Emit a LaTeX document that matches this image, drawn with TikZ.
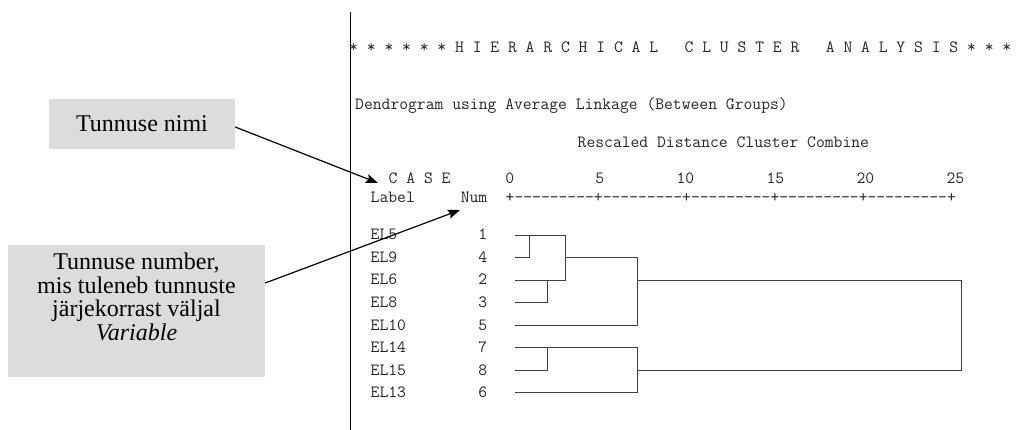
\documentclass[tikz,border=0pt]{standalone}
\usepackage{fontspec}
\setmainfont{Liberation Serif}
\usepackage{tikz}
\usetikzlibrary{arrows.meta}
\definecolor{boxgray}{RGB}{220,220,220}

\begin{document}
\begin{tikzpicture}[
  x=1pt,y=-1pt,
  callout/.style={fill=boxgray,inner sep=0pt,align=center,
    font=\fontsize{24}{23.5}\selectfont},
  spss/.style={inner sep=0pt,text=black!85,
    font=\ttfamily\fontsize{17.14}{20}\selectfont},
  tree/.style={line width=0.8pt,draw=black!75},
  arrow/.style={-{Stealth[length=12pt,width=9pt,inset=2pt]},line width=1.2pt}
]
\useasboundingbox (0,0) rectangle (1017,430);

% callout boxes on the left
\node[callout,minimum width=186pt,minimum height=50pt] (namebox) at (142,124) {Tunnuse nimi};
\node[callout] (numbox) at (136.5,311) {\parbox[c][132pt][t]{257pt}{\centering\vspace*{8pt}%
  Tunnuse number,\\ mis tuleneb tunnuste\\ järjekorrast väljal\\ \textit{Variable}}};

% edge of the output window
\draw[line width=1pt] (350,12) -- (350,430);

% output header
\node[spss,anchor=base west] (title) at (349,53)
  {* * * * * * H I E R A R C H I C A L~~~C L U S T E R~~~A N A L Y S I S * * *};
\node[spss,anchor=base west] (method) at (355,110) {Dendrogram using Average Linkage (Between Groups)};
\node[spss,anchor=base west] (scale) at (577.5,148) {Rescaled Distance Cluster Combine};
\node[spss,anchor=base west] (case) at (388.5,184) {C A S E};
\node[spss,anchor=base west] (label) at (370.5,203) {Label};
\node[spss,anchor=base east] (num) at (487.5,203) {Num};
\foreach \v [count=\i from 0] in {0,5,10,15,20,25}
  \node[spss,anchor=base east] (tick\i) at ({514.5+90*\i},184) {\v};
\node[spss,anchor=base west] (axis) at (505.5,203) {+---------+---------+---------+---------+---------+};

% cases
\foreach \lab/\n [count=\i from 0] in {EL5/1,EL9/4,EL6/2,EL8/3,EL10/5,EL14/7,EL15/8,EL13/6} {
  \node[spss,anchor=base west] (lab\i) at (370.5,{240+22.5*\i}) {\lab};
  \node[spss,anchor=base east] (num\i) at (487.5,{240+22.5*\i}) {\n};
}

% dendrogram
\draw[tree] (515,235) -- (565,235) -- (565,280) -- (515,280);
\draw[tree] (515,257.5) -| (529,235);
\draw[tree] (515,302.5) -| (547,280);
\draw[tree] (565,257.5) -- (637,257.5) -- (637,325) -- (515,325);
\draw[tree] (637,280) -- (961,280) -- (961,370) -- (637,370);
\draw[tree] (515,347.5) -- (637,347.5) -- (637,392.5) -- (515,392.5);
\draw[tree] (515,370) -| (547,347.5);

% pointers
\coordinate (casetip) at (378,183);
\coordinate (numtip) at (460,210);
\draw[arrow] ([yshift=-3pt]namebox.east) -- (casetip);
\draw[arrow] ([yshift=28pt]numbox.east) -- (numtip);
\end{tikzpicture}
\end{document}
